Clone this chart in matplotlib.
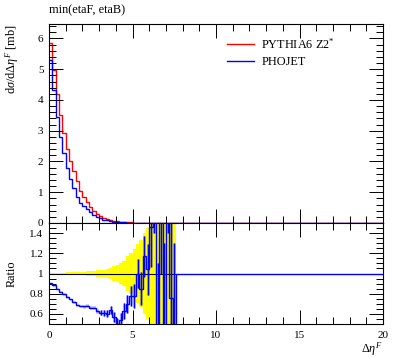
import numpy as np
import matplotlib
matplotlib.use("Agg")
import matplotlib.pyplot as plt
from matplotlib.ticker import MultipleLocator

plt.rcParams["font.family"] = ["Liberation Serif", "DejaVu Serif"]
plt.rcParams["mathtext.fontset"] = "custom"
plt.rcParams["mathtext.rm"] = "Liberation Serif"
plt.rcParams["mathtext.it"] = "Liberation Serif:italic"
plt.rcParams["font.size"] = 8.8

# ── data: 0.2-wide bins from 0 to 7.6, one empty bin up to 20 ──────
edges = np.append(np.round(np.arange(0, 7.61, 0.2), 2), 20.0)

pythia = [5.85, 4.99, 4.19, 3.50, 2.93, 2.39, 2.03, 1.70, 1.35, 1.03,
          0.83, 0.67, 0.51, 0.39, 0.29, 0.23, 0.17, 0.13, 0.10, 0.08,
          0.06, 0.045, 0.035, 0.025, 0.02, 0.015, 0.011, 0.008, 0.006, 0.004,
          0.003, 0.002, 0.0015, 0.001, 0.001, 0.0005, 0.0005, 0.0003, 0.0]
phojet = [5.31, 4.32, 3.46, 2.80, 2.26, 1.78, 1.44, 1.13, 0.85, 0.66,
          0.55, 0.45, 0.35, 0.27, 0.19, 0.15, 0.11, 0.085, 0.065, 0.048,
          0.035, 0.026, 0.02, 0.015, 0.011, 0.008, 0.006, 0.005, 0.004, 0.003,
          0.002, 0.002, 0.001, 0.001, 0.0008, 0.0005, 0.0004, 0.0003, 0.0]

# PHOJET / PYTHIA6 ratio and its error
ratio = [0.904, 0.882, 0.85, 0.818, 0.797, 0.765, 0.743, 0.722, 0.69, 0.68,
         0.674, 0.68, 0.663, 0.663, 0.63, 0.61, 0.61, 0.60, 0.64, 0.57,
         0.50, 0.54, 0.63, 0.70, 0.78, 0.78, 1.0, 0.85, 1.17, 1.04,
         1.46, 2.0, 0.3, 2.0, 0.3, 2.0, 0.76, 0.3, 1.0]
ratio_err = [0.005, 0.005, 0.006, 0.006, 0.007, 0.008, 0.009, 0.01, 0.011, 0.012,
             0.013, 0.014, 0.016, 0.018, 0.02, 0.025, 0.03, 0.035, 0.04, 0.05,
             0.06, 0.07, 0.08, 0.09, 0.1, 0.12, 0.14, 0.16, 0.2, 0.25,
             0.4, 0.6, 0.8, 1.0, 1.0, 0.6, 1.0, 1.0]
# relative stat. uncertainty of the reference (yellow band)
band = [0.004, 0.005, 0.006, 0.007, 0.009, 0.010, 0.012, 0.013, 0.015, 0.017,
        0.019, 0.021, 0.024, 0.027, 0.030, 0.033, 0.038, 0.048, 0.059, 0.070,
        0.085, 0.107, 0.128, 0.17, 0.20, 0.245, 0.29, 0.33, 0.40, 0.45,
        1.0, 1.0, 1.0, 1.0, 1.0, 1.0, 1.0, 1.0]

W, H = 397, 358
fig = plt.figure(figsize=(W / 100, H / 100), dpi=100)
ax = fig.add_axes([49 / W, 1 - 223 / H, 334 / W, 199 / H])
axr = fig.add_axes([49 / W, 1 - 324 / H, 334 / W, 101 / H], sharex=ax)

# ── main panel ────────────────────────────────────────
ax.stairs(pythia, edges, baseline=None, color="#ff0000", lw=1.0, label="PYTHIA6 Z2$^{*}$")
ax.stairs(phojet, edges, baseline=None, color="#0000ff", lw=1.0, label="PHOJET")
ax.set_xlim(0, 20)
ax.set_ylim(0, 6.47)
ax.yaxis.set_major_locator(MultipleLocator(1))
ax.yaxis.set_minor_locator(MultipleLocator(0.2))
ax.tick_params(labelbottom=False)
ax.legend(loc="upper left", bbox_to_anchor=(227 / W, 1 - 37 / H),
          bbox_transform=fig.transFigure, frameon=False, handlelength=2.2,
          handletextpad=0.6, labelspacing=0.35, borderpad=0, borderaxespad=0)

# ── ratio panel ───────────────────────────────────────
nb = len(band)
lo = [1 - b for b in band]
hi = [1 + b for b in band]
axr.stairs(hi, edges[:nb + 1], baseline=lo, fill=True, color="#ffff00", lw=0)
axr.hlines(1.0, edges[0], edges[nb], color="black", lw=0.8, zorder=2)
centers = 0.5 * (edges[:nb] + edges[1:nb + 1])
r = np.array(ratio[:nb])
e = np.array(ratio_err)
axr.vlines(centers, r - e, r + e, color="#0000ff", lw=2.2, alpha=0.35)
axr.vlines(centers[15:], (r - e)[15:], (r + e)[15:], color="#0000ff", lw=0.8)
axr.stairs(ratio, edges, baseline=None, color="#0000ff", lw=1.0, zorder=3)
axr.set_ylim(0.5, 1.5)
axr.yaxis.set_major_locator(MultipleLocator(0.2))
axr.yaxis.set_minor_locator(MultipleLocator(0.05))
axr.xaxis.set_major_locator(MultipleLocator(5))
axr.xaxis.set_minor_locator(MultipleLocator(1))
axr.set_yticks([0.6, 0.8, 1.0, 1.2, 1.4], ["0.6", "0.8", "1", "1.2", "1.4"])

for a in (ax, axr):
    a.tick_params(which="both", direction="in", top=True, right=True, width=0.7,
                  pad=4, labelsize=8.0)
    a.tick_params(which="major", length=10)
    a.tick_params(which="minor", length=5)
    for s in a.spines.values():
        s.set_linewidth(0.8)
axr.tick_params(axis="x", pad=5)

fig.text(49 / W, 1 - 10 / H, "min(etaF, etaB)", ha="left", va="center")
fig.text(12 / W, 1 - 24 / H, r"d$\sigma$/d$\Delta\eta^{F}$ [mb]", rotation=90,
         ha="center", va="top")
fig.text(12 / W, 1 - 274 / H, "Ratio", rotation=90, ha="center", va="center")
fig.text(383 / W, 1 - 353 / H, r"$\Delta\eta^{F}$", ha="right", va="baseline")

fig.savefig("out.png", dpi=100)
